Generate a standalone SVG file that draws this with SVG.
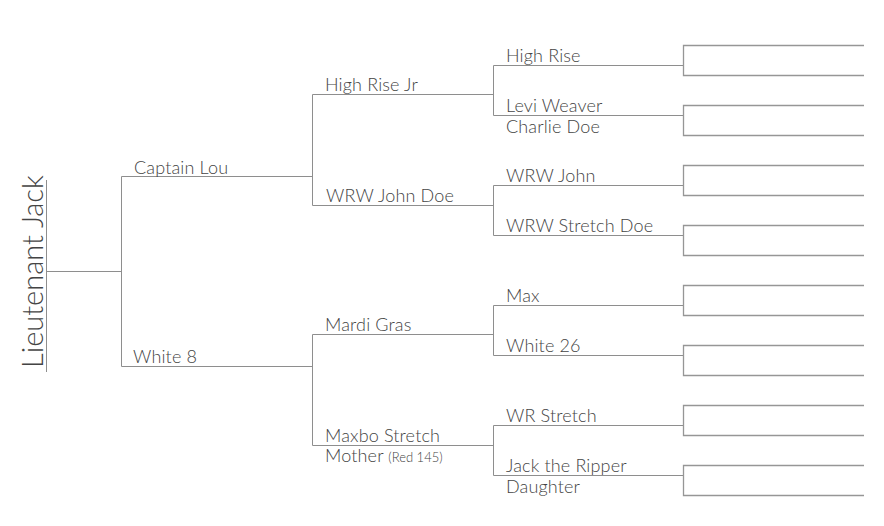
<svg xmlns="http://www.w3.org/2000/svg" width="884" height="526" viewBox="0 0 884 526">
<style>
.c{fill:none;stroke:#8e8e8e;stroke-width:1}
.b{fill:none;stroke:#969696;stroke-width:1.3}
text{font-family:Lato,"Open Sans","Liberation Sans",sans-serif;font-weight:300;fill:#444;font-size:18px;letter-spacing:0.15px}
.sm{font-size:13px;letter-spacing:0}
.big{font-size:29px;letter-spacing:0}
</style>
<rect width="884" height="526" fill="#fff"/>
<g id="connectors" class="c">
<path d="M46.5,180V372M46.5,271.5H121.5M121.5,176.5V366.5M121.5,176.5H312.5M121.5,366.5H312.5"/>
<path d="M312.5,94.5V205.5M312.5,94.5H493.5M312.5,205.5H493.5"/>
<path d="M312.5,334.5V445.5M312.5,334.5H493.5M312.5,445.5H493.5"/>
<path d="M493.5,65.5V115.5M493.5,65.5H683.5M493.5,115.5H683.5"/>
<path d="M493.5,185.5V235.5M493.5,185.5H683.5M493.5,235.5H683.5"/>
<path d="M493.5,305.5V355.5M493.5,305.5H683.5M493.5,355.5H683.5"/>
<path d="M493.5,425.5V475.5M493.5,425.5H683.5M493.5,475.5H683.5"/>
</g>
<g id="lieutenant-jack"><text class="big" transform="translate(43,368) rotate(-90)">Lieutenant Jack</text></g>
<g id="captain-lou"><text x="134" y="174">Captain Lou</text></g>
<g id="white-8"><text x="133" y="363">White 8</text></g>
<g id="high-rise-jr"><text x="325" y="91">High Rise Jr</text></g>
<g id="wrw-john-doe"><text x="326" y="202">WRW John Doe</text></g>
<g id="mardi-gras"><text x="325" y="331">Mardi Gras</text></g>
<g id="maxbo-stretch-mother"><text x="325" y="442">Maxbo Stretch</text><text x="325" y="462">Mother <tspan class="sm">(Red 145)</tspan></text></g>
<g id="high-rise"><text x="506" y="62">High Rise</text></g>
<g id="levi-weaver-charlie-doe"><text x="506" y="112">Levi Weaver</text><text x="506" y="133">Charlie Doe</text></g>
<g id="wrw-john"><text x="506" y="182">WRW John</text></g>
<g id="wrw-stretch-doe"><text x="506" y="232">WRW Stretch Doe</text></g>
<g id="max"><text x="506" y="302">Max</text></g>
<g id="white-26"><text x="506" y="352">White 26</text></g>
<g id="wr-stretch"><text x="506" y="422">WR Stretch</text></g>
<g id="jack-the-ripper-daughter"><text x="506" y="472">Jack the Ripper</text><text x="506" y="493">Daughter</text></g>
<g id="box-1" class="b"><path d="M864,45.5H683.5V75.5H864"/></g>
<g id="box-2" class="b"><path d="M864,105.5H683.5V135.5H864"/></g>
<g id="box-3" class="b"><path d="M864,165.5H683.5V195.5H864"/></g>
<g id="box-4" class="b"><path d="M864,225.5H683.5V255.5H864"/></g>
<g id="box-5" class="b"><path d="M864,285.5H683.5V315.5H864"/></g>
<g id="box-6" class="b"><path d="M864,345.5H683.5V375.5H864"/></g>
<g id="box-7" class="b"><path d="M864,405.5H683.5V435.5H864"/></g>
<g id="box-8" class="b"><path d="M864,465.5H683.5V495.5H864"/></g>
</svg>
